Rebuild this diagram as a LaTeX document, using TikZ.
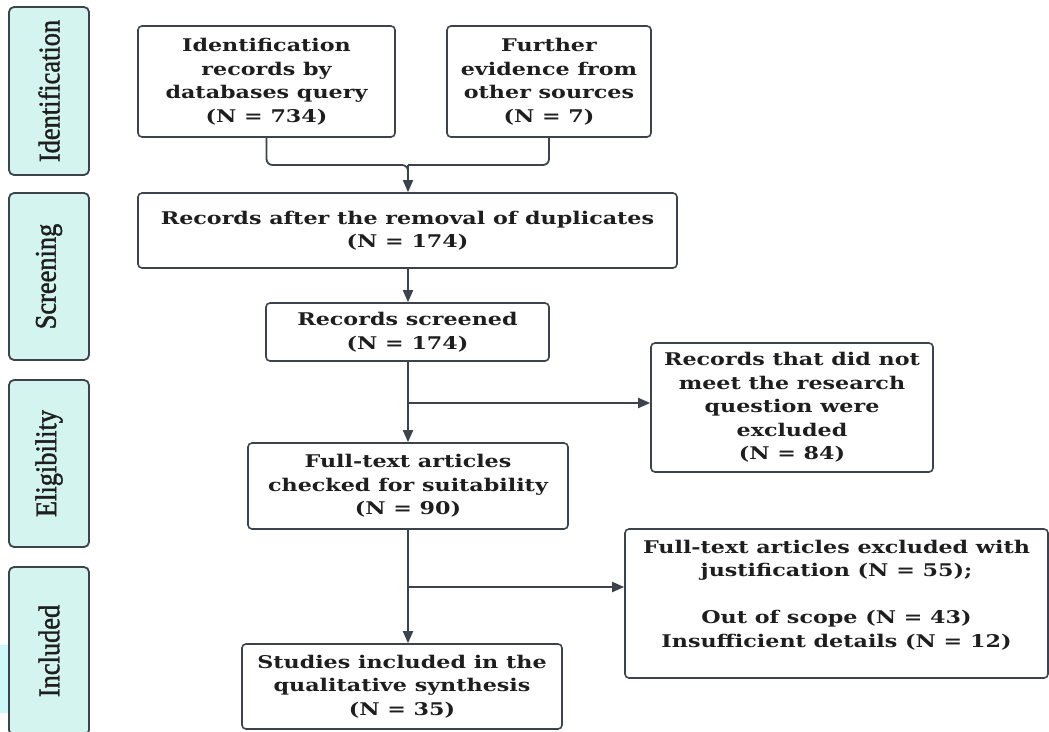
\documentclass[tikz,border=0pt]{standalone}
\usepackage{fontspec}
\setmainfont{DejaVu Serif}[FakeStretch=1.27]
\newfontfamily\phasefont[FakeStretch=0.88,FakeBold=1.3]{Liberation Serif}
\usetikzlibrary{arrows.meta}
\definecolor{edge}{HTML}{3D434D}
\definecolor{phasefill}{HTML}{D4F5EF}
\definecolor{ink}{HTML}{1E1E1E}
\definecolor{glow}{HTML}{CFF8FA}
\begin{document}
\begin{tikzpicture}[x=1pt,y=-1pt,
  box/.style={draw=edge, line width=1.6pt, rounded corners=4pt, align=center,
    font=\bfseries\fontsize{17.5}{23.5}\selectfont, text=ink, inner sep=0pt},
  phase/.style={draw=edge, line width=1.8pt, fill=phasefill, rounded corners=5pt,
    minimum height=80pt, inner sep=0pt, rotate=90,
    font=\phasefont\fontsize{30}{32}\selectfont, text=ink},
  link/.style={draw=edge, line width=1.8pt},
  arr/.style={link, -{Triangle[length=12pt,width=10pt]}}]
\useasboundingbox (0,0) rectangle (1049,731);
\clip (0,0) rectangle (1049,731);
\fill[white] (0,0) rectangle (1049,731);
\fill[glow] (0,645) rectangle (10,713);

% phase labels
\node[phase, minimum width=168pt] (p1) at (49,91) {Identification};
\node[phase, minimum width=167pt] (p2) at (49,276.5) {Screening};
\node[phase, minimum width=167pt] (p3) at (49,463.5) {Eligibility};
\node[phase, minimum width=168pt] (p4) at (49,651) {Included};

% boxes
\node[box, minimum width=257pt, minimum height=111pt] (b1) at (266.5,81.5)
  {Identification\\records by\\databases query\\(N = 734)};
\node[box, minimum width=204pt, minimum height=111pt] (b2) at (549,81.5)
  {Further\\evidence from\\other sources\\(N = 7)};
\node[box, minimum width=539pt, minimum height=75pt] (b3) at (407.5,230.5)
  {Records after the removal of duplicates\\(N = 174)};
\node[box, minimum width=283pt, minimum height=58pt] (b4) at (407.5,332)
  {Records screened\\(N = 174)};
\node[box, minimum width=320pt, minimum height=86pt] (b5) at (408,486)
  {Full-text articles\\checked for suitability\\(N = 90)};
\node[box, minimum width=320pt, minimum height=85pt] (b6) at (402,686.5)
  {Studies included in the\\qualitative synthesis\\(N = 35)};
\node[box, minimum width=282pt, minimum height=129pt] (e1) at (792,407.5)
  {Records that did not\\meet the research\\question were\\excluded\\(N = 84)};
\node[box, minimum width=423pt, minimum height=149pt] (e2) at (836.5,603.5)
  {Full-text articles excluded with\\justification (N = 55);\\[23.5pt]Out of scope (N = 43)\\Insufficient details (N = 12)\\[-4pt]\mbox{}};

% connectors
\coordinate (m) at (408,165);
\draw[link, rounded corners=6pt] (b1.south) |- (m) -- (408,180);
\draw[link, rounded corners=6pt] (b2.south) |- (m);
\draw[arr] (m) -- (m |- b3.north);
\draw[arr] (b3.south -| m) -- (m |- b4.north);
\coordinate (j1) at (408,403);
\coordinate (j2) at (408,587);
\draw[arr] (b4.south -| m) -- (m |- b5.north);
\draw[arr] (j1) -- (j1 -| e1.west);
\draw[arr] (b5.south -| m) -- (m |- b6.north);
\draw[arr] (j2) -- (j2 -| e2.west);
\end{tikzpicture}
\end{document}
